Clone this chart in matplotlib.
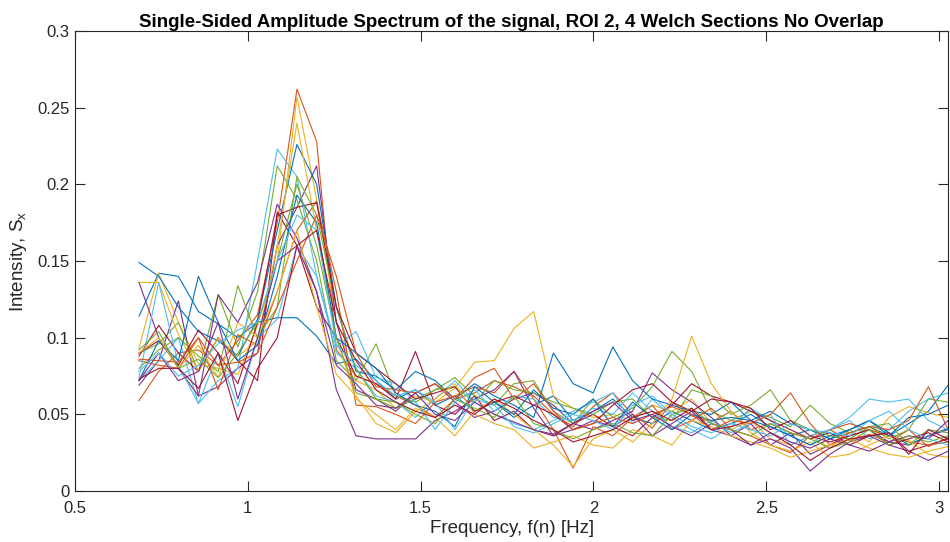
import matplotlib
matplotlib.use("Agg")
import matplotlib.pyplot as plt
from matplotlib.ticker import FuncFormatter

plt.rcParams['font.family'] = ['Liberation Sans', 'DejaVu Sans']

# frequency bins of the Welch spectrum [Hz]
freq = [0.685, 0.742, 0.799, 0.857, 0.914, 0.971, 1.028, 1.085, 1.142, 1.199,
        1.256, 1.313, 1.371, 1.428, 1.485, 1.542, 1.599, 1.656, 1.713, 1.770,
        1.827, 1.884, 1.941, 1.999, 2.056, 2.113, 2.170, 2.227, 2.284, 2.341,
        2.398, 2.455, 2.512, 2.570, 2.627, 2.684, 2.741, 2.798, 2.855, 2.912,
        2.969, 3.026]

# MATLAB default colour order
colors = ['#0072BD', '#D95319', '#EDB120', '#7E2F8E', '#77AC30', '#4DBEEE', '#A2142F']

spectra = [
    [0.114, 0.142, 0.140, 0.117, 0.109, 0.100, 0.110, 0.113, 0.113, 0.101, 0.083, 0.086,
     0.072, 0.060, 0.066, 0.056, 0.062, 0.052, 0.058, 0.048, 0.056, 0.062, 0.046, 0.052,
     0.060, 0.048, 0.044, 0.052, 0.046, 0.040, 0.044, 0.050, 0.042, 0.036, 0.040, 0.034,
     0.038, 0.042, 0.036, 0.044, 0.052, 0.069],
    [0.059, 0.078, 0.090, 0.092, 0.082, 0.098, 0.115, 0.175, 0.262, 0.228, 0.092, 0.075,
     0.070, 0.062, 0.056, 0.048, 0.060, 0.064, 0.072, 0.068, 0.062, 0.050, 0.042, 0.055,
     0.064, 0.050, 0.041, 0.058, 0.049, 0.045, 0.052, 0.040, 0.044, 0.038, 0.034, 0.040,
     0.033, 0.037, 0.032, 0.040, 0.029, 0.035],
    [0.093, 0.142, 0.110, 0.083, 0.080, 0.076, 0.108, 0.150, 0.257, 0.190, 0.110, 0.072,
     0.066, 0.054, 0.062, 0.058, 0.067, 0.084, 0.085, 0.106, 0.117, 0.062, 0.054, 0.048,
     0.050, 0.046, 0.056, 0.052, 0.060, 0.044, 0.040, 0.046, 0.034, 0.030, 0.036, 0.028,
     0.040, 0.032, 0.048, 0.055, 0.051, 0.048],
    [0.069, 0.085, 0.124, 0.062, 0.068, 0.080, 0.090, 0.160, 0.185, 0.212, 0.110, 0.066,
     0.060, 0.052, 0.064, 0.070, 0.058, 0.048, 0.052, 0.060, 0.064, 0.056, 0.044, 0.040,
     0.046, 0.052, 0.077, 0.066, 0.058, 0.048, 0.036, 0.044, 0.030, 0.038, 0.024, 0.030,
     0.036, 0.040, 0.032, 0.030, 0.036, 0.040],
    [0.090, 0.096, 0.110, 0.078, 0.128, 0.094, 0.130, 0.212, 0.190, 0.150, 0.085, 0.072,
     0.096, 0.062, 0.058, 0.066, 0.074, 0.062, 0.056, 0.070, 0.072, 0.052, 0.044, 0.060,
     0.048, 0.054, 0.068, 0.091, 0.078, 0.052, 0.046, 0.052, 0.048, 0.042, 0.056, 0.044,
     0.038, 0.042, 0.034, 0.040, 0.060, 0.058],
    [0.072, 0.085, 0.100, 0.057, 0.072, 0.080, 0.150, 0.223, 0.205, 0.140, 0.090, 0.080,
     0.062, 0.058, 0.048, 0.060, 0.072, 0.058, 0.050, 0.044, 0.040, 0.046, 0.052, 0.058,
     0.064, 0.044, 0.060, 0.048, 0.040, 0.034, 0.042, 0.054, 0.046, 0.036, 0.030, 0.040,
     0.046, 0.034, 0.040, 0.052, 0.060, 0.064],
    [0.088, 0.108, 0.090, 0.078, 0.100, 0.085, 0.072, 0.182, 0.160, 0.120, 0.100, 0.075,
     0.070, 0.060, 0.091, 0.056, 0.050, 0.062, 0.046, 0.052, 0.040, 0.036, 0.044, 0.050,
     0.042, 0.036, 0.048, 0.056, 0.070, 0.062, 0.058, 0.052, 0.046, 0.040, 0.034, 0.038,
     0.030, 0.036, 0.038, 0.026, 0.030, 0.034],
    [0.149, 0.140, 0.120, 0.104, 0.098, 0.088, 0.112, 0.170, 0.226, 0.200, 0.120, 0.078,
     0.075, 0.066, 0.078, 0.072, 0.060, 0.070, 0.062, 0.056, 0.048, 0.090, 0.070, 0.064,
     0.094, 0.072, 0.060, 0.056, 0.052, 0.050, 0.058, 0.046, 0.052, 0.044, 0.040, 0.034,
     0.040, 0.046, 0.038, 0.030, 0.036, 0.041],
    [0.085, 0.082, 0.080, 0.100, 0.066, 0.102, 0.095, 0.130, 0.170, 0.189, 0.130, 0.056,
     0.055, 0.050, 0.044, 0.058, 0.062, 0.068, 0.064, 0.078, 0.060, 0.040, 0.015, 0.042,
     0.036, 0.048, 0.056, 0.040, 0.046, 0.054, 0.040, 0.036, 0.030, 0.025, 0.036, 0.040,
     0.044, 0.040, 0.036, 0.032, 0.030, 0.032],
    [0.136, 0.136, 0.102, 0.078, 0.100, 0.088, 0.098, 0.160, 0.240, 0.170, 0.100, 0.060,
     0.050, 0.040, 0.054, 0.048, 0.036, 0.052, 0.060, 0.050, 0.040, 0.030, 0.016, 0.034,
     0.040, 0.032, 0.044, 0.060, 0.101, 0.070, 0.052, 0.038, 0.030, 0.026, 0.032, 0.022,
     0.024, 0.030, 0.036, 0.033, 0.024, 0.022],
    [0.136, 0.100, 0.080, 0.062, 0.128, 0.110, 0.136, 0.187, 0.165, 0.130, 0.066, 0.036,
     0.034, 0.034, 0.034, 0.046, 0.052, 0.060, 0.066, 0.078, 0.054, 0.036, 0.040, 0.046,
     0.042, 0.050, 0.036, 0.044, 0.052, 0.040, 0.036, 0.030, 0.034, 0.028, 0.013, 0.024,
     0.032, 0.036, 0.030, 0.026, 0.020, 0.026],
    [0.080, 0.092, 0.100, 0.088, 0.078, 0.134, 0.100, 0.120, 0.205, 0.180, 0.120, 0.080,
     0.060, 0.054, 0.060, 0.066, 0.068, 0.058, 0.072, 0.066, 0.064, 0.058, 0.054, 0.050,
     0.058, 0.060, 0.048, 0.046, 0.066, 0.062, 0.050, 0.056, 0.066, 0.046, 0.040, 0.036,
     0.034, 0.042, 0.044, 0.030, 0.040, 0.038],
    [0.074, 0.136, 0.082, 0.057, 0.090, 0.055, 0.100, 0.112, 0.160, 0.140, 0.094, 0.104,
     0.074, 0.070, 0.058, 0.040, 0.058, 0.066, 0.052, 0.062, 0.060, 0.048, 0.046, 0.054,
     0.050, 0.064, 0.052, 0.042, 0.038, 0.046, 0.038, 0.044, 0.050, 0.030, 0.036, 0.040,
     0.048, 0.060, 0.058, 0.060, 0.046, 0.040],
    [0.090, 0.098, 0.082, 0.105, 0.090, 0.070, 0.110, 0.180, 0.185, 0.188, 0.120, 0.090,
     0.080, 0.070, 0.060, 0.064, 0.068, 0.052, 0.058, 0.062, 0.056, 0.050, 0.040, 0.044,
     0.056, 0.066, 0.070, 0.058, 0.052, 0.060, 0.058, 0.054, 0.040, 0.046, 0.036, 0.032,
     0.036, 0.040, 0.030, 0.034, 0.038, 0.032],
    [0.072, 0.098, 0.085, 0.140, 0.110, 0.085, 0.095, 0.140, 0.193, 0.175, 0.100, 0.090,
     0.080, 0.064, 0.056, 0.052, 0.042, 0.068, 0.058, 0.050, 0.066, 0.054, 0.050, 0.060,
     0.042, 0.058, 0.048, 0.040, 0.050, 0.046, 0.048, 0.046, 0.042, 0.036, 0.030, 0.036,
     0.040, 0.046, 0.036, 0.048, 0.050, 0.056],
    [0.086, 0.085, 0.084, 0.100, 0.082, 0.084, 0.090, 0.120, 0.150, 0.180, 0.140, 0.090,
     0.068, 0.066, 0.064, 0.070, 0.060, 0.074, 0.080, 0.060, 0.070, 0.052, 0.040, 0.044,
     0.048, 0.044, 0.050, 0.055, 0.050, 0.040, 0.046, 0.044, 0.050, 0.064, 0.044, 0.030,
     0.038, 0.042, 0.040, 0.046, 0.068, 0.040],
    [0.090, 0.100, 0.080, 0.095, 0.074, 0.110, 0.100, 0.130, 0.170, 0.120, 0.076, 0.062,
     0.044, 0.038, 0.052, 0.060, 0.070, 0.050, 0.044, 0.040, 0.028, 0.032, 0.036, 0.030,
     0.028, 0.040, 0.036, 0.030, 0.046, 0.042, 0.036, 0.032, 0.028, 0.022, 0.026, 0.030,
     0.034, 0.028, 0.024, 0.022, 0.026, 0.029],
    [0.072, 0.090, 0.072, 0.078, 0.110, 0.060, 0.100, 0.150, 0.160, 0.130, 0.082, 0.070,
     0.056, 0.054, 0.064, 0.050, 0.046, 0.058, 0.050, 0.045, 0.040, 0.037, 0.044, 0.052,
     0.058, 0.046, 0.050, 0.042, 0.036, 0.044, 0.040, 0.030, 0.038, 0.032, 0.028, 0.034,
     0.030, 0.026, 0.032, 0.036, 0.034, 0.046],
    [0.092, 0.104, 0.080, 0.086, 0.074, 0.090, 0.110, 0.150, 0.200, 0.160, 0.100, 0.064,
     0.060, 0.058, 0.050, 0.044, 0.060, 0.054, 0.048, 0.062, 0.044, 0.040, 0.034, 0.040,
     0.044, 0.038, 0.036, 0.050, 0.054, 0.044, 0.040, 0.036, 0.044, 0.038, 0.034, 0.028,
     0.032, 0.040, 0.030, 0.036, 0.032, 0.036],
    [0.078, 0.090, 0.075, 0.082, 0.096, 0.105, 0.110, 0.150, 0.180, 0.170, 0.095, 0.082,
     0.072, 0.062, 0.066, 0.058, 0.040, 0.060, 0.056, 0.042, 0.038, 0.044, 0.050, 0.046,
     0.040, 0.056, 0.062, 0.050, 0.042, 0.038, 0.044, 0.040, 0.036, 0.044, 0.040, 0.038,
     0.036, 0.046, 0.052, 0.040, 0.034, 0.030],
    [0.073, 0.080, 0.080, 0.067, 0.090, 0.046, 0.080, 0.100, 0.160, 0.170, 0.110, 0.085,
     0.066, 0.058, 0.052, 0.048, 0.056, 0.050, 0.060, 0.054, 0.046, 0.040, 0.032, 0.036,
     0.040, 0.048, 0.052, 0.046, 0.054, 0.040, 0.042, 0.046, 0.038, 0.030, 0.020, 0.028,
     0.034, 0.036, 0.038, 0.024, 0.040, 0.034],
]

fig = plt.figure(figsize=(9.5, 5.42), dpi=100)
ax = fig.add_axes([0.079, 0.094, 0.919, 0.849])

for i, s in enumerate(spectra):
    ax.plot(freq[:len(s)], s, color=colors[i % len(colors)], linewidth=0.8)

ax.set_xlim(0.5, freq[-1])
ax.set_ylim(0, 0.3)
ax.set_xticks([0.5, 1, 1.5, 2, 2.5, 3])
ax.set_yticks([0, 0.05, 0.1, 0.15, 0.2, 0.25, 0.3])
fmt = FuncFormatter(lambda v, p: '%g' % round(v, 4))
ax.xaxis.set_major_formatter(fmt)
ax.yaxis.set_major_formatter(fmt)

axis_col = '#262626'
for sp in ax.spines.values():
    sp.set_color(axis_col)
    sp.set_linewidth(0.8)
ax.tick_params(direction='in', length=7, width=0.8, top=True, right=True,
               colors=axis_col, labelsize=12)
ax.tick_params(axis='x', pad=7)
ax.tick_params(axis='y', pad=4)
for lab in ax.get_xticklabels() + ax.get_yticklabels():
    lab.set_color(axis_col)

ax.set_xlabel('Frequency, f(n) [Hz]', fontsize=13.5, color=axis_col, labelpad=3)
ax.set_ylabel('Intensity, S$_{\\mathregular{x}}$', fontsize=13.5, color=axis_col, labelpad=6)
ax.set_title('Single-Sided Amplitude Spectrum of the signal, ROI 2, 4 Welch Sections No Overlap',
             fontsize=13.5, fontweight='bold', color='black', pad=3)

fig.savefig('out.png', dpi=100)
